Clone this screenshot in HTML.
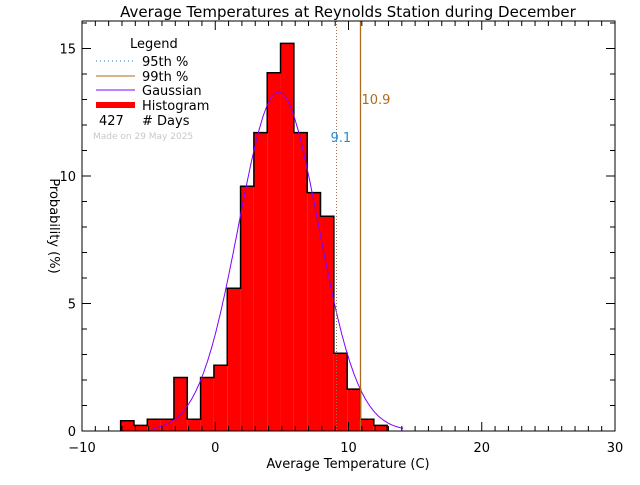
<!DOCTYPE html>
<html><head><meta charset="utf-8"><style>
body{margin:0;background:#fff;}
svg text{font-family:"DejaVu Sans","Liberation Sans",sans-serif;}
</style></head><body>
<svg width="640" height="480" xmlns="http://www.w3.org/2000/svg" id="svg">
<text x="348" y="17" font-size="15" text-anchor="middle">Average Temperatures at Reynolds Station during December</text>
<text x="348" y="468" font-size="13" text-anchor="middle">Average Temperature (C)</text>
<text x="50" y="226" font-size="13" text-anchor="middle" transform="rotate(90 50 226)">Probability  (%)</text>
<g id="plot"></g>
<g font-size="13">
<text x="130" y="48">Legend</text>
<line x1="96" y1="61" x2="135" y2="61" stroke="#1e73c8" stroke-dasharray="1,3"/>
<text x="142" y="66">95th %</text>
<line x1="96" y1="76" x2="135" y2="76" stroke="#b06a1e"/>
<text x="142" y="81">99th %</text>
<line x1="96" y1="90" x2="135" y2="90" stroke="#8000ff"/>
<text x="142" y="95">Gaussian</text>
<rect x="96" y="102" width="39" height="6" fill="#ff0000"/>
<text x="142" y="110">Histogram</text>
<text x="99" y="125">427</text>
<text x="142" y="125"># Days</text>
<text x="93" y="139" font-size="9" fill="#c8c8c8">Made on 29 May 2025</text>
</g>
</svg>
<script>
const binStarts=[-7.1,-6.1,-5.1,-4.1,-3.1,-2.1,-1.1,-0.1,0.9,1.9,2.9,3.9,4.9,5.9,6.9,7.9,8.9,9.9,10.9,11.9];
const binValues=[0.4,0.22,0.46,0.46,2.1,0.46,2.1,2.58,5.6,9.6,11.7,14.05,15.2,11.7,9.35,8.42,3.05,1.64,0.46,0.22];
const gaussMean=[4.75];
const gaussSigma=[3.0];
const p95=[9.1], p99=[10.9];
const xTicks=[-10,0,10,20,30];
const yTicks=[0,5,10,15];
const X0=82,X1=615,Y0=431,Y1=21;
const sx=v=>X0+(v+10)/40*(X1-X0);
const sy=v=>Y0-v*25.5;
const ns="http://www.w3.org/2000/svg";
const g=document.getElementById('plot');
function mk(t,a){const e=document.createElementNS(ns,t);for(const k in a)e.setAttribute(k,a[k]);g.appendChild(e);return e;}
let d='M'+sx(binStarts[0])+','+Y0;
binStarts.forEach((s,i)=>{const e=mk('rect',{x:sx(s),y:sy(binValues[i]),width:sx(s+1)-sx(s),height:Y0-sy(binValues[i]),fill:'#ff0000'});


d+=' L'+sx(s)+','+sy(binValues[i])+' L'+sx(s+1)+','+sy(binValues[i]);});
d+=' L'+sx(binStarts[binStarts.length-1]+1)+','+Y0;
const out=mk('path',{d:d,fill:'none',stroke:'#000','stroke-width':1.5});


let gd='';const m=gaussMean[0],sg=gaussSigma[0],pk=100/(sg*Math.sqrt(2*Math.PI));
for(let x=-4.7;x<=14.1;x+=0.1){const v=pk*Math.exp(-(x-m)*(x-m)/(2*sg*sg));gd+=(gd?' L':'M')+sx(x).toFixed(1)+','+sy(v).toFixed(1);}
const ga=mk('path',{d:gd,fill:'none',stroke:'#8000ff','stroke-width':1});


const l95=mk('line',{x1:sx(p95[0]),x2:sx(p95[0]),y1:Y1,y2:Y0,stroke:'#a07050','stroke-dasharray':'1,2'});


const l99=mk('line',{x1:sx(p99[0]),x2:sx(p99[0]),y1:Y1,y2:Y0,stroke:'#b06a1e','stroke-width':1.3});


const t95=mk('text',{x:sx(p95[0])-6,y:142,'font-size':13,fill:'#1e8ce0'});t95.textContent=p95[0].toFixed(1);


const t99=mk('text',{x:sx(p99[0])+1,y:104,'font-size':13,fill:'#b06a1e'});t99.textContent=p99[0].toFixed(1);


const fr=mk('rect',{x:X0,y:Y1,width:X1-X0,height:Y0-Y1,fill:'none',stroke:'#000','stroke-width':1});


let td='';
for(let v=-10;v<=30;v++){const L=(v%10===0)?9:5;td+=`M${sx(v)},${Y0}v${-L}M${sx(v)},${Y1}v${L}`;}
for(let v=0;v<=16;v++){if(sy(v)<Y1)break;const L=(v%5===0)?9:5;td+=`M${X0},${sy(v)}h${L}M${X1},${sy(v)}h${-L}`;}
const tk=mk('path',{d:td,stroke:'#000','stroke-width':1,fill:'none'});


xTicks.forEach(v=>{const t=mk('text',{x:sx(v),y:452,'font-size':13,'text-anchor':'middle'});t.textContent=v<0?'\u2212'+(-v):v;

});
yTicks.forEach(v=>{const t=mk('text',{x:76,y:sy(v)+5,'font-size':13,'text-anchor':'end'});t.textContent=v;

});
</script>
</body></html>
